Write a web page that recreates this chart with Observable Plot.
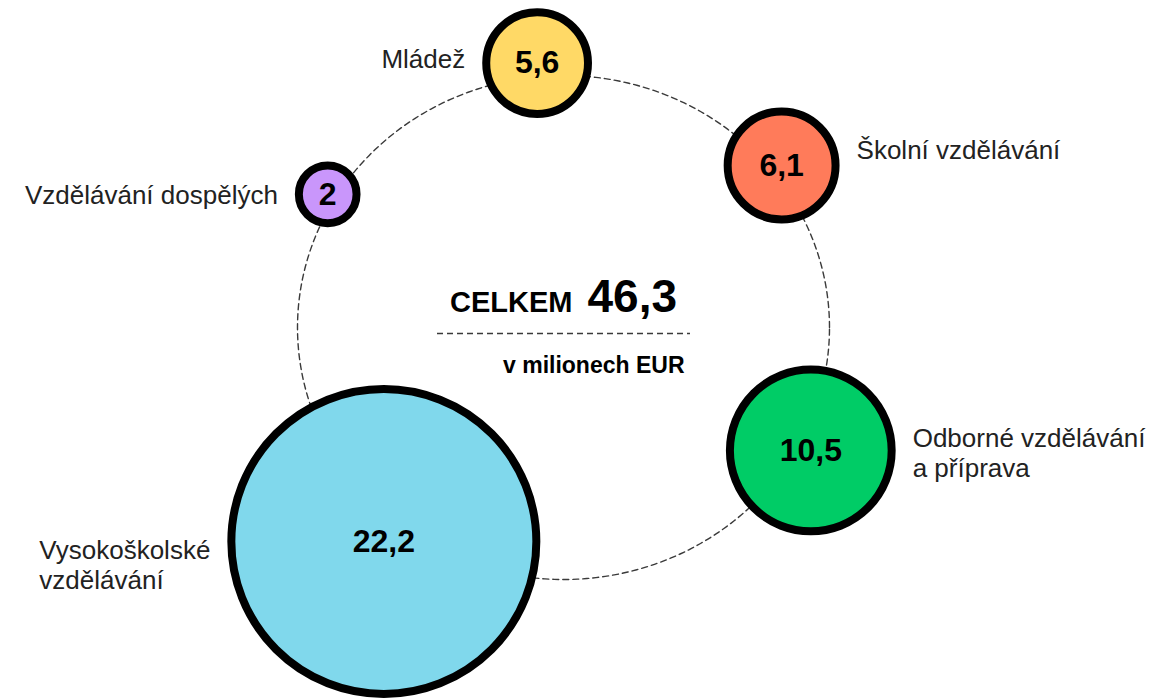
<!DOCTYPE html>
<html><head><meta charset="utf-8">
<script src="https://cdn.jsdelivr.net/npm/d3@7"></script>
<script src="https://cdn.jsdelivr.net/npm/@observablehq/plot@0.6"></script>
<style>html,body{margin:0;padding:0;background:#fff;}</style>
</head><body><div id="chart"></div>
<script>
// ---- data ----
const categories = ["Mládež", "Školní vzdělávání", "Odborné vzdělávání\na příprava", "Vysokoškolské\nvzdělávání", "Vzdělávání dospělých"];
const values = [5.6, 6.1, 10.5, 22.2, 2];
const valueLabels = ["5,6", "6,1", "10,5", "22,2", "2"];
const totalTitle = "CELKEM";
const totalLabel = "46,3";
const unitLabel = "v milionech EUR";

// ---- styles / layout (not data) ----
const colors = ["#FFD966", "#FF7B5A", "#00CC66", "#80D8EC", "#C996FB"];
const angles = [-5.4, 51.9, 117.7, 218.5, 300.8]; // placement around the ring (deg, clockwise from top)
const dists = [1.054, 1.042, 1.05, 1.085, 1.032]; // distance from ring centre, in ring radii
const labelSide = ["left", "right", "right", "left", "left"];
const labelDy = [-5, -16, 2, 23, 0];

const W = 1151, H = 700;
const cx = 563, cy = 327, rx = 266, ry = 252;
const strokeW = 8, gap = 17;
const FONT = "'Liberation Sans', Arial, Helvetica, sans-serif";
const rScale = {type: "linear", domain: [0, 22.2], range: [16.6, 152.5]};
const rS = Plot.scale({r: rScale});

const data = categories.map((c, i) => {
  const a = angles[i] * Math.PI / 180;
  return {category: c, value: values[i], label: valueLabels[i], x: dists[i] * Math.sin(a), y: dists[i] * Math.cos(a)};
});

const ctx = document.createElement("canvas").getContext("2d");
ctx.font = `26px ${FONT}`;
const labels = data.map((d, i) => {
  const rOut = rS.apply(d.value) + strokeW / 2;
  const px = cx + rx * d.x, py = cy - ry * d.y;
  const w = d3.max(d.category.split("\n"), s => ctx.measureText(s).width);
  const xs = labelSide[i] === "right" ? px + rOut + gap : px - rOut - gap - w;
  return {text: d.category, x: (xs - cx) / rx, y: (cy - (py + labelDy[i])) / ry};
});

const ring = d3.range(0, 361, 1).map(t => ({x: Math.cos(t * Math.PI / 180), y: Math.sin(t * Math.PI / 180)}));

const chart = Plot.plot({
  width: W, height: H, margin: 0,
  x: {domain: [-1, 1], range: [cx - rx, cx + rx], axis: null},
  y: {domain: [-1, 1], range: [cy + ry, cy - ry], axis: null},
  r: rScale,
  color: {domain: categories, range: colors},
  style: {fontFamily: FONT, background: "#fff", overflow: "hidden"},
  marks: [
    Plot.line(ring, {x: "x", y: "y", stroke: "#3a3a3a", strokeWidth: 1.4, strokeDasharray: "6,4"}),
    Plot.ruleY([0], {x1: () => -126 / rx, x2: () => 127 / rx, dy: 6, stroke: "#3a3a3a", strokeWidth: 1.4, strokeDasharray: "6,4"}),
    Plot.dot(data, {x: "x", y: "y", r: "value", fill: "category", stroke: "#000", strokeWidth: strokeW}),
    Plot.text(data, {x: "x", y: "y", text: "label", fontSize: 32, fontWeight: "bold", fill: "#000", lineAnchor: "middle"}),
    Plot.text(labels, {x: "x", y: "y", text: "text", textAnchor: "start", lineAnchor: "middle", fontSize: 26, lineHeight: 1.15, fill: "#222"}),
    Plot.text([totalTitle], {x: () => 0, y: () => 0, text: d => d, textAnchor: "end", lineAnchor: "bottom", dx: 9, dy: -16, fontSize: 29, fontWeight: "bold", fill: "#000"}),
    Plot.text([totalLabel], {x: () => 0, y: () => 0, text: d => d, textAnchor: "start", lineAnchor: "bottom", dx: 24, dy: -16, fontSize: 46, fontWeight: "bold", fill: "#000"}),
    Plot.text([unitLabel], {x: () => 0, y: () => 0, text: d => d, textAnchor: "end", lineAnchor: "bottom", dx: 121, dy: 45, fontSize: 23, fontWeight: "bold", fill: "#000"})
  ]
});
document.getElementById("chart").appendChild(chart);
</script>
</body></html>
